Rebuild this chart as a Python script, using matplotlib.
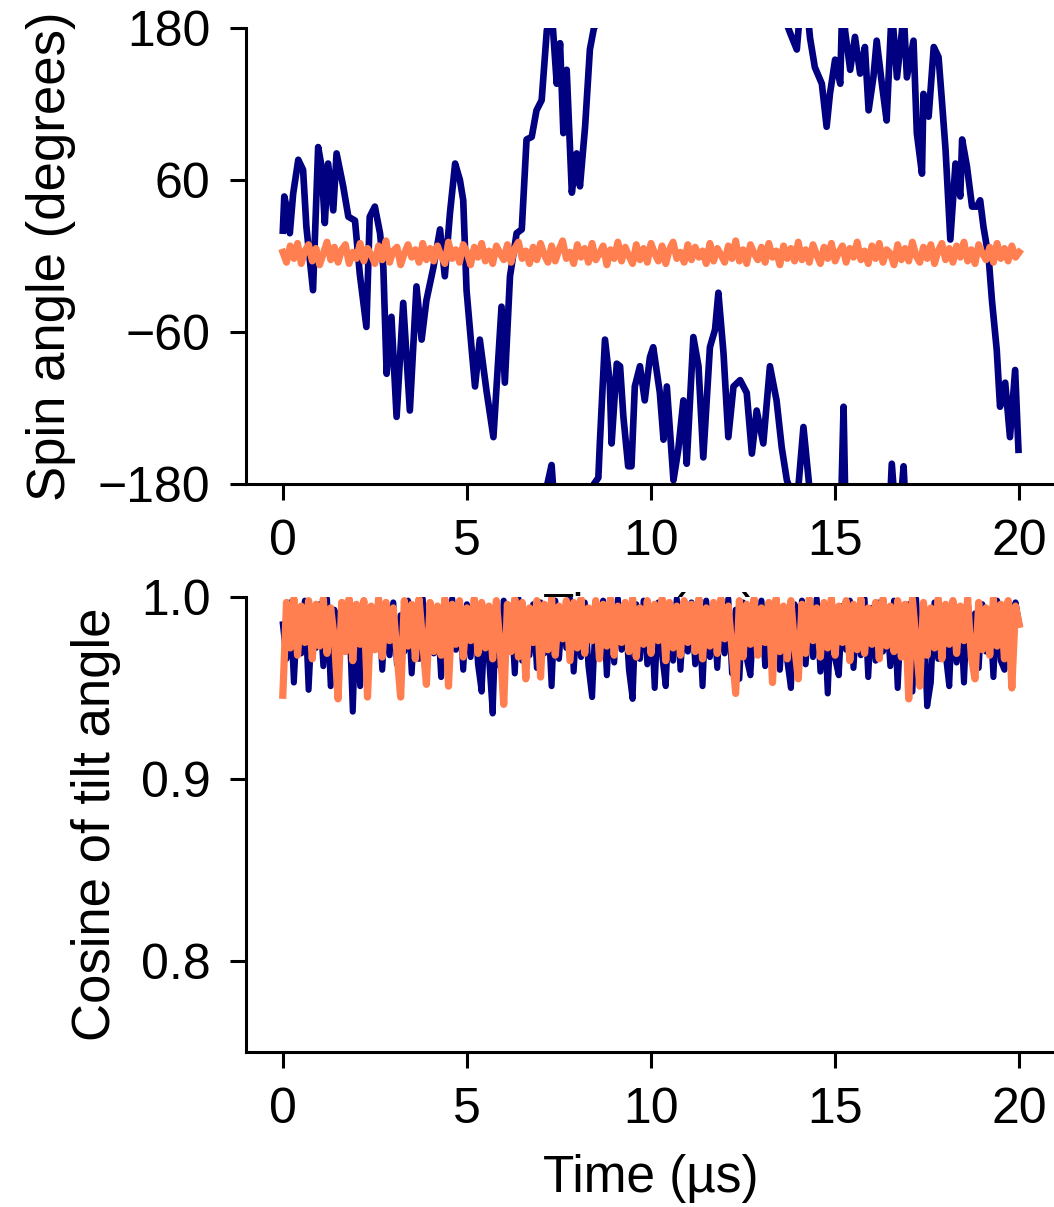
import numpy as np
import matplotlib.pyplot as plt

plt.rcParams['font.family'] = ['Liberation Sans', 'DejaVu Sans']
plt.rcParams['font.size'] = 36

# spin angle of the first rotor, unwrapped (degrees)
spin_t = [0.00, 0.04, 0.10, 0.19, 0.28, 0.42, 0.55, 0.64, 0.82, 0.96,
          1.05, 1.14, 1.23, 1.37, 1.46, 1.64, 1.78, 1.96, 2.09, 2.27,
          2.36, 2.50, 2.64, 2.73, 2.82, 2.95, 3.09, 3.27, 3.45, 3.63,
          3.77, 3.90, 4.09, 4.27, 4.40, 4.54, 4.68, 4.81, 4.90, 4.99,
          5.13, 5.22, 5.35, 5.53, 5.72, 5.94, 6.03, 6.17, 6.35, 6.49,
          6.62, 6.76, 6.89, 7.03, 7.17, 7.30, 7.44, 7.53, 7.62, 7.71,
          7.85, 7.98, 8.07, 8.21, 8.34, 8.45, 8.57, 8.61, 8.75, 8.88,
          8.93, 9.07, 9.16, 9.25, 9.38, 9.47, 9.56, 9.70, 9.83, 9.97,
          10.06, 10.24, 10.34, 10.43, 10.61, 10.74, 10.88, 10.97, 11.15, 11.29,
          11.42, 11.60, 11.74, 11.83, 11.97, 12.10, 12.24, 12.42, 12.60, 12.74,
          12.87, 13.05, 13.23, 13.41, 13.55, 13.69, 13.78, 13.96, 14.14, 14.32,
          14.45, 14.64, 14.77, 14.86, 15.00, 15.14, 15.23, 15.27, 15.41, 15.54,
          15.68, 15.81, 15.91, 16.04, 16.13, 16.27, 16.40, 16.54, 16.68, 16.81,
          16.86, 16.95, 17.13, 17.22, 17.36, 17.40, 17.54, 17.68, 17.81, 17.90,
          18.00, 18.13, 18.27, 18.40, 18.45, 18.58, 18.72, 18.85, 18.94, 19.03,
          19.17, 19.26, 19.39, 19.48, 19.62, 19.75, 19.89, 19.98]
spin_navy = [20, 47, 39, 18, 49, 76, 68, 23, -27, 86,
             71, 26, 73, 36, 81, 55, 31, 28, -14, -56,
             31, 39, 18, -9, -93, -48, -127, -37, -122, -24,
             -66, -35, -9, 21, -16, 34, 73, 60, 44, -27,
             -74, -103, -66, -106, -143, -40, -100, -16, 18, 21,
             92, 94, 115, 123, 178, 195, 136, 168, 97, 147,
             50, 81, 55, 102, 163, 180, 185, 212, 294, 260,
             212, 275, 273, 233, 194, 194, 257, 273, 246, 280,
             288, 252, 215, 257, 183, 207, 246, 196, 296, 273,
             201, 288, 302, 331, 283, 217, 257, 262, 252, 204,
             238, 212, 273, 246, 209, 183, 176, 163, 225, 172,
             149, 136, 102, 128, 155, 136, 241, 178, 147, 173,
             144, 165, 115, 141, 170, 136, 107, 196, 141, 176,
             194, 141, 170, 97, 65, 128, 110, 165, 157, 123,
             84, 13, 73, 47, 92, 71, 39, 39, 44, 23,
             -1, -35, -74, -119, -100, -143, -90, -153]

# second rotor and the tilt cosines are sampled every 0.1 us
fine_t = np.arange(201) * 0.1
spin_orange = [3, -5, 8, -2, 10, -6, 4, 9, -4, 6, -7, 2, 11, -3, 7, -5, 5, 9, -6, 3,
               -2, 10, -4, 6, 1, -6, 8, -3, 12, -5, 4, 7, -7, 2, 9, -1, 5, -5, 10, -3,
               6, -4, 8, 0, -6, 11, -2, 5, -5, 9, 3, -7, 7, -1, 10, -4, 4, -6, 8, 2,
               -3, 9, -5, 6, 11, -2, 4, -6, 7, -3, 10, 1, -5, 8, -4, 5, 12, -2, 3, -6,
               9, -1, 6, -5, 10, -3, 2, 8, -7, 5, -2, 11, -4, 7, 0, -6, 9, -3, 6, -5,
               10, 2, -4, 8, -6, 5, 11, -2, 3, -5, 9, -3, 7, -1, 4, -6, 10, -4, 6, 1,
               -5, 8, -2, 12, -4, 5, -6, 9, 2, -3, 7, -5, 10, -1, 4, -7, 8, -2, 6, -4,
               11, -3, 5, -5, 9, 1, -6, 7, -2, 10, -4, 3, 8, -5, 6, -1, 11, -3, 4, -6,
               8, -2, 10, -5, 5, 2, -7, 9, -3, 6, -4, 11, 0, -5, 7, -2, 9, -6, 4, 10,
               -3, 6, -5, 8, -1, 11, -4, 5, -6, 9, 2, -3, 7, -5, 10, -2, 6, -4, 8, -1,
               3]

cos_navy = [0.985, 0.966, 0.997, 0.953, 0.992, 0.969, 0.998, 0.949, 0.990, 0.972,
            0.996, 0.962, 0.999, 0.951, 0.993, 0.967, 0.997, 0.970, 0.991, 0.937,
            0.996, 0.951, 0.998, 0.965, 0.992, 0.971, 0.999, 0.960, 0.994, 0.968,
            0.997, 0.963, 0.990, 0.970, 0.998, 0.958, 0.993, 0.966, 0.999, 0.961,
            0.995, 0.969, 0.991, 0.956, 0.997, 0.964, 0.999, 0.971, 0.992, 0.960,
            0.996, 0.967, 0.998, 0.963, 0.948, 0.990, 0.966, 0.936, 0.995, 0.962,
            0.998, 0.970, 0.993, 0.958, 0.999, 0.965, 0.991, 0.968, 0.996, 0.961,
            0.997, 0.969, 0.992, 0.951, 0.998, 0.966, 0.994, 0.972, 0.999, 0.959,
            0.993, 0.967, 0.997, 0.962, 0.945, 0.991, 0.969, 0.998, 0.957, 0.994,
            0.964, 0.999, 0.971, 0.992, 0.960, 0.944, 0.996, 0.966, 0.998, 0.963,
            0.993, 0.950, 0.997, 0.968, 0.951, 0.995, 0.965, 0.999, 0.960, 0.992,
            0.970, 0.997, 0.963, 0.994, 0.951, 0.998, 0.967, 0.991, 0.961, 0.996,
            0.969, 0.999, 0.958, 0.993, 0.955, 0.997, 0.966, 0.957, 0.992, 0.971,
            0.998, 0.962, 0.994, 0.968, 0.999, 0.960, 0.991, 0.965, 0.950, 0.996,
            0.970, 0.998, 0.963, 0.993, 0.967, 0.999, 0.959, 0.992, 0.947, 0.997,
            0.966, 0.957, 0.995, 0.971, 0.998, 0.961, 0.993, 0.968, 0.999, 0.956,
            0.994, 0.965, 0.997, 0.970, 0.991, 0.962, 0.998, 0.950, 0.993, 0.967,
            0.996, 0.948, 0.999, 0.963, 0.992, 0.940, 0.953, 0.997, 0.966, 0.994,
            0.969, 0.951, 0.998, 0.964, 0.993, 0.953, 0.999, 0.968, 0.991, 0.961,
            0.996, 0.970, 0.993, 0.956, 0.998, 0.965, 0.960, 0.994, 0.971, 0.997,
            0.985]

cos_orange = [0.946, 0.997, 0.972, 0.999, 0.968, 0.995, 0.975, 0.998, 0.966, 0.996,
              0.973, 0.999, 0.969, 0.994, 0.977, 0.944, 0.997, 0.970, 0.999, 0.965,
              0.996, 0.974, 0.998, 0.945, 0.995, 0.971, 0.999, 0.967, 0.997, 0.976,
              0.994, 0.969, 0.945, 0.998, 0.973, 0.996, 0.966, 0.999, 0.975, 0.952,
              0.997, 0.970, 0.995, 0.968, 0.999, 0.951, 0.996, 0.974, 0.998, 0.967,
              0.994, 0.976, 0.999, 0.969, 0.997, 0.972, 0.995, 0.966, 0.998, 0.973,
              0.941, 0.996, 0.970, 0.999, 0.967, 0.997, 0.955, 0.994, 0.975, 0.998,
              0.956, 0.996, 0.971, 0.999, 0.968, 0.995, 0.977, 0.998, 0.965, 0.997,
              0.972, 0.999, 0.969, 0.994, 0.976, 0.998, 0.966, 0.996, 0.973, 0.999,
              0.968, 0.995, 0.975, 0.997, 0.970, 0.999, 0.967, 0.994, 0.974, 0.998,
              0.969, 0.996, 0.976, 0.999, 0.965, 0.997, 0.972, 0.995, 0.968, 0.998,
              0.975, 0.996, 0.970, 0.999, 0.966, 0.994, 0.973, 0.997, 0.969, 0.999,
              0.977, 0.995, 0.971, 0.947, 0.998, 0.967, 0.996, 0.974, 0.999, 0.968,
              0.994, 0.975, 0.997, 0.953, 0.999, 0.970, 0.995, 0.966, 0.998, 0.973,
              0.955, 0.996, 0.969, 0.999, 0.976, 0.994, 0.967, 0.997, 0.972, 0.999,
              0.968, 0.995, 0.975, 0.998, 0.965, 0.996, 0.971, 0.999, 0.969, 0.994,
              0.974, 0.997, 0.966, 0.999, 0.973, 0.995, 0.970, 0.998, 0.967, 0.996,
              0.944, 0.999, 0.975, 0.951, 0.997, 0.968, 0.994, 0.972, 0.999, 0.966,
              0.996, 0.974, 0.998, 0.969, 0.995, 0.976, 0.999, 0.967, 0.955, 0.997,
              0.971, 0.994, 0.968, 0.999, 0.973, 0.996, 0.966, 0.998, 0.950, 0.995,
              0.985]

x_ticks = [0, 5, 10, 15, 20]
spin_ticks = [-180, -60, 60, 180]
cos_ticks = [0.8, 0.9, 1.0]

navy = '#000080'
coral = '#FF7F50'

fig = plt.figure(figsize=(10.54, 12.07), dpi=100)
ax1 = fig.add_axes([0.2334, 0.5990, 0.7685, 0.3778])
ax2 = fig.add_axes([0.2334, 0.1284, 0.7685, 0.3770])

# wrapped angle: draw the trace shifted by a full turn so it re-enters at the other edge
for shift in (-360, 0, 360):
    ax1.plot(spin_t, np.array(spin_navy) + shift, color=navy, lw=4.8)
ax1.plot(fine_t, spin_orange, color=coral, lw=5.0)
ax1.set_ylim(-180, 180)
ax1.set_yticks(spin_ticks)
ax1.set_ylabel('Spin angle (degrees)', labelpad=16, fontsize=38)
ax1.set_xlabel('Time (µs)', labelpad=19, fontsize=37)

ax2.plot(fine_t, cos_navy, color=navy, lw=4.4)
ax2.plot(fine_t, cos_orange, color=coral, lw=5.2)
ax2.set_ylim(0.75, 1.0)
ax2.set_yticks(cos_ticks)
ax2.set_yticklabels(['0.8', '0.9', '1.0'])
ax2.set_ylabel('Cosine of tilt angle', labelpad=14, fontsize=38)
ax2.set_xlabel('Time (µs)', labelpad=15, fontsize=37)

for ax in (ax1, ax2):
    ax.set_xlim(-1, 21)
    ax.set_xticks(x_ticks)
    ax.spines['top'].set_visible(False)
    ax.spines['right'].set_visible(False)
    for s in ('left', 'bottom'):
        ax.spines[s].set_linewidth(2.2)
    ax.tick_params(length=11.5, width=2.2, pad=14, labelsize=36)

fig.savefig('out.png', dpi=100)
